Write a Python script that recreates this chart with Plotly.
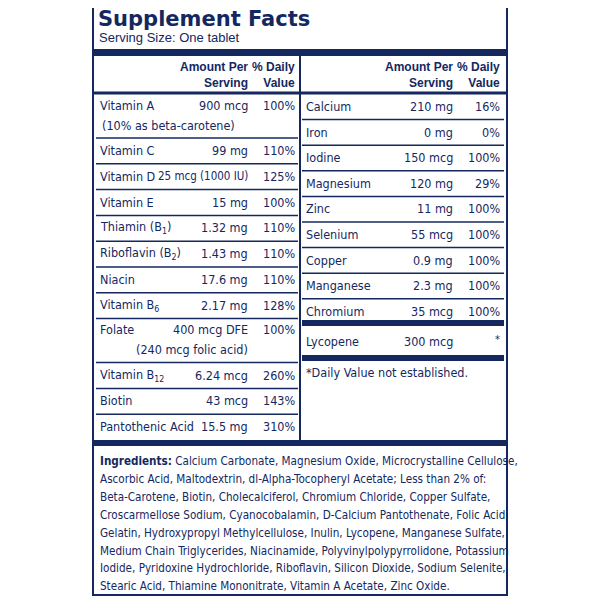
import plotly.graph_objects as go

NAVY = "#14285f"
FONT = "DejaVu Sans Condensed"

left_names = ["Vitamin A", "Vitamin C", "Vitamin D", "Vitamin E", "Thiamin (B<sub>1</sub>)",
              "Riboflavin (B<sub>2</sub>)", "Niacin", "Vitamin B<sub>6</sub>", "Folate",
              "Vitamin B<sub>12</sub>", "Biotin", "Pantothenic Acid"]
left_amounts = ["900 mcg", "99 mg", "25 mcg (1000 IU)", "15 mg", "1.32 mg", "1.43 mg",
                "17.6 mg", "2.17 mg", "400 mcg DFE", "6.24 mcg", "43 mcg", "15.5 mg"]
left_dv = ["100%", "110%", "125%", "100%", "110%", "110%", "110%", "128%", "100%",
           "260%", "143%", "310%"]
left_notes = ["(10% as beta-carotene)", "", "", "", "", "", "", "", "(240 mcg folic acid)", "", "", ""]

right_names = ["Calcium", "Iron", "Iodine", "Magnesium", "Zinc", "Selenium", "Copper",
               "Manganese", "Chromium"]
right_amounts = ["210 mg", "0 mg", "150 mcg", "120 mg", "11 mg", "55 mcg", "0.9 mg",
                 "2.3 mg", "35 mcg"]
right_dv = ["16%", "0%", "100%", "29%", "100%", "100%", "100%", "100%", "100%"]

extra_name = "Lycopene"
extra_amount = "300 mcg"
extra_dv = "*"
footnote = "*Daily Value not established."

ingredient_lines = [
    "<b>Ingredients:</b> Calcium Carbonate, Magnesium Oxide, Microcrystalline Cellulose,",
    "Ascorbic Acid, Maltodextrin, dl-Alpha-Tocopheryl Acetate; Less than 2% of:",
    "Beta-Carotene, Biotin, Cholecalciferol, Chromium Chloride, Copper Sulfate,",
    "Croscarmellose Sodium, Cyanocobalamin, D-Calcium Pantothenate, Folic Acid,",
    "Gelatin, Hydroxypropyl Methylcellulose, Inulin, Lycopene, Manganese Sulfate,",
    "Medium Chain Triglycerides, Niacinamide, Polyvinylpolypyrrolidone, Potassium",
    "Iodide, Pyridoxine Hydrochloride, Riboflavin, Silicon Dioxide, Sodium Selenite,",
    "Stearic Acid, Thiamine Mononitrate, Vitamin A Acetate, Zinc Oxide.",
]

fig = go.Figure()
fig.add_trace(go.Scatter(x=[8, 600], y=[8, 600], mode="markers", marker=dict(opacity=0),
                         hoverinfo="skip", showlegend=False))
shapes, ann = [], []

def line(x0, x1, y, w):
    shapes.append(dict(type="line", x0=x0, x1=x1, y0=y, y1=y, line=dict(color=NAVY, width=w)))

def text(x, y, s, anchor="left", size=12.5, bold=False, fam=FONT):
    ann.append(dict(x=x, y=y, text=f"<b>{s}</b>" if bold else s, showarrow=False,
                    xanchor=anchor, yanchor="middle", align=anchor,
                    font=dict(family=fam, size=size, color=NAVY)))

shapes.append(dict(type="rect", x0=93, x1=507, y0=5, y1=595, line=dict(color=NAVY, width=2)))
text(96, 19, "Supplement Facts", size=21, bold=True, fam="DejaVu Sans")
text(97, 37, "Serving Size: One tablet", size=13, fam="Liberation Sans")
line(93, 507, 52.5, 7)
shapes.append(dict(type="line", x0=300, x1=300, y0=56, y1=441, line=dict(color=NAVY, width=2)))
for xa, xd in [(250, 297), (455, 502)]:
    text(xa, 75, "Amount Per<br>Serving", anchor="right", size=12, bold=True, fam="Liberation Sans")
    text(xd, 75, "% Daily<br>Value", anchor="right", size=12, bold=True, fam="Liberation Sans")
line(93, 300, 93, 3)
line(300, 507, 93, 3)

top = 94
for i, n in enumerate(left_names):
    h = 44 if left_notes[i] else 25.8
    cy = top + (11 if left_notes[i] else 12.5)
    text(98, cy, n)
    text(250, cy, left_amounts[i], anchor="right", size=11.5 if len(left_amounts[i]) > 12 else 12.5)
    text(297, cy, left_dv[i], anchor="right")
    if left_notes[i]:
        text(250 if i == 8 else 100, top + 31, left_notes[i], anchor="right" if i == 8 else "left")
    top += h
    if i < len(left_names) - 1:
        line(96, 298, top, 1.5)
line(93, 507, 443, 6)

top = 94
for i, n in enumerate(right_names):
    cy = top + 12.5
    text(304, cy, n)
    text(455, cy, right_amounts[i], anchor="right")
    text(502, cy, right_dv[i], anchor="right")
    top += 25.6
    if i < len(right_names) - 1:
        line(302, 504, top, 1.5)
line(302, 504, 323, 6)
text(304, 341, extra_name)
text(455, 341, extra_amount, anchor="right")
text(502, 339, extra_dv, anchor="right", size=11)
line(302, 504, 358, 6)
text(304, 372, footnote, size=12.5)

for k, s in enumerate(ingredient_lines):
    text(98, 461 + k * 17.9, s, size=11.6)

fig.update_layout(width=600, height=600, margin=dict(l=0, r=0, t=0, b=0),
                  plot_bgcolor="white", paper_bgcolor="white",
                  xaxis=dict(range=[8, 608], visible=False, fixedrange=True),
                  yaxis=dict(range=[608, 8], visible=False, fixedrange=True),
                  shapes=shapes, annotations=ann, showlegend=False)
fig.write_html("out.html")
